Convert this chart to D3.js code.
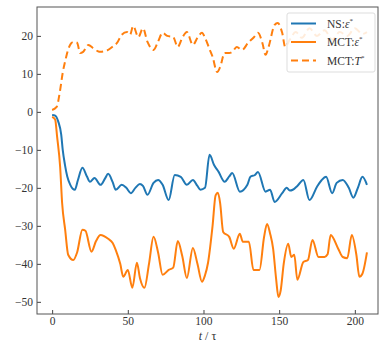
<!DOCTYPE html>
<html><head><meta charset="utf-8">
<script src="https://cdn.jsdelivr.net/npm/d3@7"></script>
<style>body{margin:0;background:#fff}svg{display:block}text{font-family:"Liberation Serif","Times New Roman",serif;fill:#333}</style>
</head><body><svg id="c" width="382" height="343"></svg>
<script>
const xTicks=[0,50,100,150,200];
const yTicks=[20,10,0,-10,-20,-30,-40,-50];
const seriesNames=["NS:ε*","MCT:ε*","MCT:T*"];
const tNS=[0,2,4,6,7,8.5,10,12,15,17,20,23,25,28,32,35,37,40,42,46,49,52,55,58,60,63,67,70,73,77,81,85,89,93,96,98,101,104,107,110,114,117,119,124,129,131,134,136,141,144,147,152,155,157,159,162,166,170,175,178,181,185,188,192,196,199,202,205,208];
const vNS=[-0.8,-1,-2.5,-6,-10,-14,-17,-19.2,-20.5,-18,-14.7,-17,-18.4,-17.4,-19.2,-17.5,-16.3,-18.5,-20.5,-19.2,-20,-21.4,-20,-19,-19.5,-21.8,-18.7,-17.9,-19.2,-23.2,-16.6,-17.1,-19.2,-17.9,-19.5,-20.5,-20,-11.3,-14,-15.8,-18.4,-17,-16.1,-21,-19.2,-17.1,-16.6,-15.8,-21,-20.5,-23.7,-21.4,-20,-20.7,-20.5,-19.5,-17.9,-23.2,-19.7,-18,-17.1,-21.4,-18.7,-17.9,-20,-22.6,-20,-17.1,-19.2];
const tME=[0,2,3.3,5.3,6.6,8.6,10.6,14,16.5,20,22,26,29,32,37,40,42,45,47,50,53,56,58,61,64,67,70,73,77,80,83,86,89,93,96,99,101,103,106,108,109.5,111,113,117,120,124,126,130,133,137,140,142,144,146,148,149.5,151,153,156,158,160,162,166,169,172,176,180,182,184,189,192,195,198,201,203,205,208];
const vME=[-1.3,-2,-6.6,-14.5,-24,-31,-37.6,-39,-37,-31,-31.3,-36.8,-34,-32.4,-33.4,-34.5,-36.3,-40,-43.4,-41.6,-46.3,-39.7,-43.7,-46.3,-40,-32.9,-37,-42.9,-41.6,-41,-34,-38,-43.7,-35.8,-40,-44.7,-43,-39.7,-30,-22,-21.3,-24,-31.6,-32.9,-36,-32.1,-34.2,-34.2,-41.6,-41.6,-33,-29.5,-32,-36,-44,-48.7,-47,-40,-34.7,-38.2,-37.6,-44.2,-39.5,-39,-33.7,-38.2,-38.2,-37.5,-32.4,-36,-38.2,-38.5,-32.4,-37.6,-43.4,-42.6,-37];
const tMT=[0,3,5,7,9,10.5,12.5,14,16.5,18.5,20.5,24,27,30,32,35,37,40,43,46,49.5,51.5,53.5,57,60,63,67,70,73,76,80,83,86,89,93,96,99,101,104,106,109,111,114,117,119,122,125.5,129.5,133,136,139,141,143,147,149,152,154,157,161,165,170,175,180,185,190,195,200,205,208];
const vMT=[0.5,1.3,5,10.3,14,16.3,18,18.4,18.2,15.5,15.8,17.6,16.8,16,15.8,16,16.3,17.2,18.2,20.3,21,20.3,22.6,19.7,22,18.4,16.3,18.5,20.8,20,19.7,17.1,19.5,21,17.6,19.5,20.8,19.5,16.5,14.5,10.5,11.8,15.5,15.5,15.8,17.1,16.3,18.2,19.5,20.8,18,15,17.1,22.9,23.4,20.8,17.1,19,21,19.5,22,20,21.5,19,21,20,22,20.5,21];

const svg=d3.select("#c");
const L=37,R=378,T=7,B=314;
const x=d3.scaleLinear().domain([-10,215.3]).range([L,R]);
const y=d3.scaleLinear().domain([-53.2,27.6]).range([B,T]);
const blue="#1f77b4",orange="#ff7f0e";
const line=d3.line().x(d=>x(d[0])).y(d=>y(d[1])).curve(d3.curveMonotoneX);
const zip=(a,b)=>a.map((t,i)=>[t,b[i]]);
const g=svg.append("g");
g.append("path").datum(zip(tMT,vMT)).attr("d",line).attr("fill","none").attr("stroke",orange).attr("stroke-width",2).attr("stroke-dasharray","7,4");
g.append("path").datum(zip(tNS,vNS)).attr("d",line).attr("fill","none").attr("stroke",blue).attr("stroke-width",2);
g.append("path").datum(zip(tME,vME)).attr("d",line).attr("fill","none").attr("stroke",orange).attr("stroke-width",2);

const fmt=d=>d<0?"\u2212"+Math.abs(d):String(d);
const xa=svg.append("g").attr("transform",`translate(0,${B})`).call(d3.axisBottom(x).tickValues(xTicks).tickFormat(fmt).tickSizeInner(-4).tickSizeOuter(0).tickPadding(3));
const ya=svg.append("g").attr("transform",`translate(${L},0)`).call(d3.axisLeft(y).tickValues(yTicks).tickFormat(fmt).tickSizeInner(-4).tickSizeOuter(0).tickPadding(4));
[xa,ya].forEach(a=>{a.select(".domain").remove();a.selectAll("line").attr("stroke","#444");a.selectAll("text").attr("font-size",11.5).attr("fill","#333").attr("font-family","Liberation Serif");});
svg.append("rect").attr("x",L).attr("y",T).attr("width",R-L).attr("height",B-T).attr("fill","none").attr("stroke","#555").attr("stroke-width",1);

// legend
const lg=svg.append("g");
lg.append("rect").attr("x",287).attr("y",13).attr("width",88).attr("height",59).attr("rx",2).attr("fill","#fff").attr("fill-opacity",0.85).attr("stroke","#ddd");
const styles=[{c:blue,d:null},{c:orange,d:null},{c:orange,d:"7,4"}];
seriesNames.forEach((n,i)=>{
  const yy=23.5+i*18.5;
  const l=lg.append("line").attr("x1",291).attr("x2",316).attr("y1",yy).attr("y2",yy).attr("stroke",styles[i].c).attr("stroke-width",2);
  if(styles[i].d) l.attr("stroke-dasharray",styles[i].d);
  const parts=n.split(":");
  const tx=lg.append("text").attr("x",327).attr("y",yy+4).attr("font-size",11.5);
  tx.append("tspan").text(parts[0]+":");
  tx.append("tspan").attr("font-style","italic").text(parts[1].replace("*",""));
  tx.append("tspan").attr("font-size",7).attr("dy",-5).text("*");
});
svg.append("text").attr("x",(L+R)/2).attr("y",340).attr("text-anchor","middle").attr("font-size",12)
  .call(t=>{t.append("tspan").attr("font-style","italic").text("t");t.append("tspan").text(" / τ");});
</script></body></html>
